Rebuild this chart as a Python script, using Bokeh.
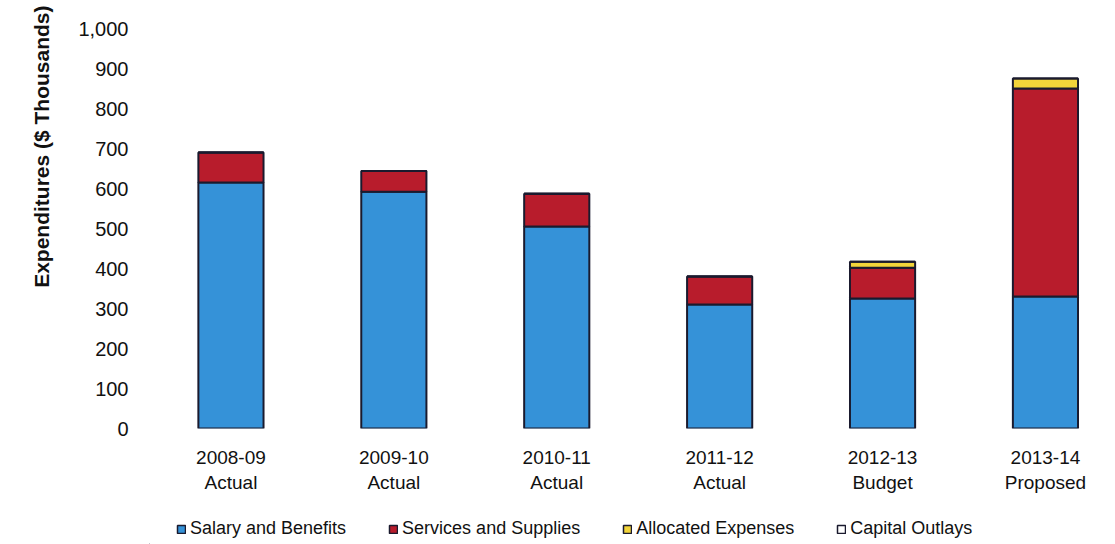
from bokeh.plotting import figure
from bokeh.models import ColumnDataSource, Range1d, FixedTicker, NumeralTickFormatter, Legend, Title
from bokeh.layouts import column
from bokeh.embed import file_html
from bokeh.resources import INLINE

years = ["2008-09\nActual", "2009-10\nActual", "2010-11\nActual", "2011-12\nActual", "2012-13\nBudget", "2013-14\nProposed"]
salary = [615, 592, 505, 310, 325, 330]
services = [75, 52, 82, 70, 77, 520]
allocated = [0, 0, 0, 0, 15, 25]
capital = [0, 0, 0, 0, 0, 0]
series = ["Salary and Benefits", "Services and Supplies", "Allocated Expenses", "Capital Outlays"]
colors = ["#3592d8", "#b81c2c", "#f2d43a", "#ffffff"]
y_ticks = [0, 100, 200, 300, 400, 500, 600, 700, 800, 900, 1000]
edge = "#1a1a2e"

xs = list(range(len(years)))
src = ColumnDataSource(dict(x=xs, s0=salary, s1=services, s2=allocated, s3=capital))

p = figure(width=1115, height=500, output_backend="svg", toolbar_location=None,
           x_range=Range1d(-0.5, 5.43), y_range=Range1d(0, 1000),
           min_border_left=149, min_border_right=0, min_border_top=28, min_border_bottom=72)
p.outline_line_color = None
p.grid.grid_line_color = None

renderers = p.vbar_stack(["s0", "s1", "s2", "s3"], x="x", width=0.4, source=src,
                         fill_color=colors, line_color=edge, line_width=2)

p.yaxis.ticker = FixedTicker(ticks=y_ticks)
p.yaxis.formatter = NumeralTickFormatter(format="0,0")
p.yaxis.axis_line_color = None
p.yaxis.major_tick_line_color = None
p.yaxis.minor_tick_line_color = None
p.yaxis.major_label_text_font = "Liberation Sans"
p.yaxis.major_label_text_font_size = "20px"
p.yaxis.major_label_text_color = "#111111"
p.yaxis.major_label_standoff = 15

ytitle = Title(text="Expenditures ($ Thousands)", align="right", offset=-23, standoff=45,
               text_font="Liberation Sans", text_font_size="21px", text_font_style="bold",
               text_color="#111111")
p.add_layout(ytitle, "left")

p.xaxis.ticker = FixedTicker(ticks=xs)
p.xaxis.major_label_overrides = {i: years[i] for i in xs}
p.xaxis.axis_line_color = None
p.xaxis.major_tick_line_color = None
p.xaxis.minor_tick_line_color = None
p.xaxis.major_label_text_font = "Liberation Sans"
p.xaxis.major_label_text_font_size = "19px"
p.xaxis.major_label_text_color = "#111111"
p.xaxis.major_label_standoff = 12

# legend strip below the chart (its frame is aligned with the chart frame)
q = figure(width=1115, height=44, output_backend="svg", toolbar_location=None,
           x_range=Range1d(0, 1), y_range=Range1d(0, 1),
           min_border=0, min_border_left=149, min_border_right=0, min_border_top=0, min_border_bottom=0)
q.axis.visible = False
q.grid.grid_line_color = None
q.outline_line_color = None
items = []
for name, c in zip(series, colors):
    # legend-only proxy glyph, kept outside the visible range
    r = q.vbar(x=[-10], top=[0], width=0.1, fill_color=c, line_color=edge, line_width=1.5)
    items.append((name, [r]))
legend = Legend(items=items, orientation="horizontal", location=(27, 5),
                label_text_font="Liberation Sans", label_text_font_size="18px",
                label_text_color="#111111", glyph_width=10, glyph_height=10,
                spacing=42, label_standoff=4, border_line_color=None,
                background_fill_alpha=0, padding=2, margin=0)
q.add_layout(legend, "center")

layout = column(p, q, spacing=0)
open("out.html", "w").write(file_html(layout, INLINE))
